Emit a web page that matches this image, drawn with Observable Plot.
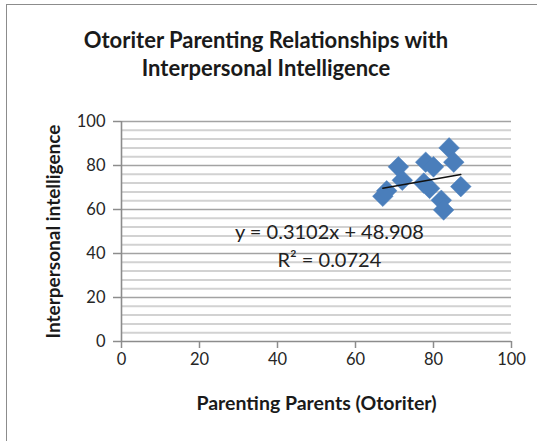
<!DOCTYPE html>
<html>
<head>
<meta charset="utf-8">
<script src="https://cdn.jsdelivr.net/npm/d3@7"></script>
<script src="https://cdn.jsdelivr.net/npm/@observablehq/plot@0.6"></script>
<style>
  html, body { margin: 0; padding: 0; background: #fff; overflow: hidden; width: 537px; height: 441px; }
  #frame { position: absolute; left: 6px; top: 4px; width: 620px; height: 520px; border: 1.5px solid #8c8c8c; box-sizing: border-box; }
  #title { position: absolute; left: 0; width: 532px; top: 26px; text-align: center; font-family: Lato, sans-serif; font-weight: bold; font-size: 22px; line-height: 28px; color: #1a1a1a; }
  #chart { position: absolute; left: 0; top: 0; }
</style>
</head>
<body>
<div id="frame"></div>
<div id="chart"></div>
<div id="title">Otoriter Parenting Relationships with<br>Interpersonal Intelligence</div>
<script>
// Data
const parenting = [67, 68, 71, 72, 78, 80, 77.5, 79, 82, 82.6, 84, 85.2, 87];
const interpersonal = [66, 68.5, 79.4, 73.3, 81.5, 79.4, 72, 69.6, 64.2, 59.8, 88, 81.5, 70.4];
const majorTicks = [0, 20, 40, 60, 80, 100];
const minorTicks = [4, 8, 12, 16, 24, 28, 32, 36, 44, 48, 52, 56, 64, 68, 72, 76, 84, 88, 92, 96];
const trendSlope = [0.3102];
const trendIntercept = [48.908];
const equationLabel = ["y = 0.3102x + 48.908"];
const r2Label = ["R² = 0.0724"];
const xLabel = "Parenting Parents (Otoriter)";
const yLabel = "Interpersonal intelligence";

const points = parenting.map((x, i) => ({x, y: interpersonal[i]}));
const xMin = d3.min(parenting), xMax = d3.max(parenting);
const trend = [xMin, xMax].map(x => ({x, y: trendSlope[0] * x + trendIntercept[0]}));

const chart = Plot.plot({
  width: 537,
  height: 441,
  marginLeft: 121,
  marginRight: 26,
  marginTop: 121,
  marginBottom: 100,
  style: {fontFamily: "Lato, sans-serif", background: "transparent", overflow: "visible"},
  x: {domain: [0, 100]},
  y: {domain: [0, 100]},
  marks: [
    Plot.ruleY(minorTicks, {stroke: "#d2d2d2", strokeWidth: 2}),
    Plot.ruleY(majorTicks.filter(v => v > 0), {stroke: "#a3a3a3", strokeWidth: 1.6}),
    Plot.axisY({ticks: majorTicks, tickSize: 8, tickPadding: 8, stroke: "#8c8c8c", strokeWidth: 1.5, fill: "#262626", fontSize: 16.5, label: null}),
    Plot.axisX({ticks: majorTicks, tickSize: 7, tickPadding: 5, stroke: "#8c8c8c", strokeWidth: 1.5, fill: "#262626", fontSize: 16.5, label: null}),
    Plot.ruleX([0], {stroke: "#8c8c8c", strokeWidth: 1.6}),
    Plot.ruleY([0], {stroke: "#8c8c8c", strokeWidth: 1.6}),
    Plot.dot(points, {x: "x", y: "y", symbol: "diamond2", r: 9.3, fill: "#4a7ebb", stroke: "#4a7ebb", strokeWidth: 0.5}),
    Plot.line(trend, {x: "x", y: "y", stroke: "#111", strokeWidth: 1.5}),
    Plot.text(equationLabel, {x: 53.3, y: 49.5, text: d => d, fontSize: 20, fill: "#222"}),
    Plot.text(r2Label, {x: 53.3, y: 37, text: d => d, fontSize: 20, fill: "#222"}),
    Plot.text([xLabel], {frameAnchor: "bottom", dy: 68, text: d => d, fontSize: 19.5, fontWeight: "bold", fill: "#1a1a1a"}),
    Plot.text([yLabel], {frameAnchor: "left", dx: -68, rotate: -90, textAnchor: "middle", text: d => d, fontSize: 19, fontWeight: "bold", fill: "#1a1a1a"})
  ]
});
document.getElementById("chart").appendChild(chart);
</script>
</body>
</html>
